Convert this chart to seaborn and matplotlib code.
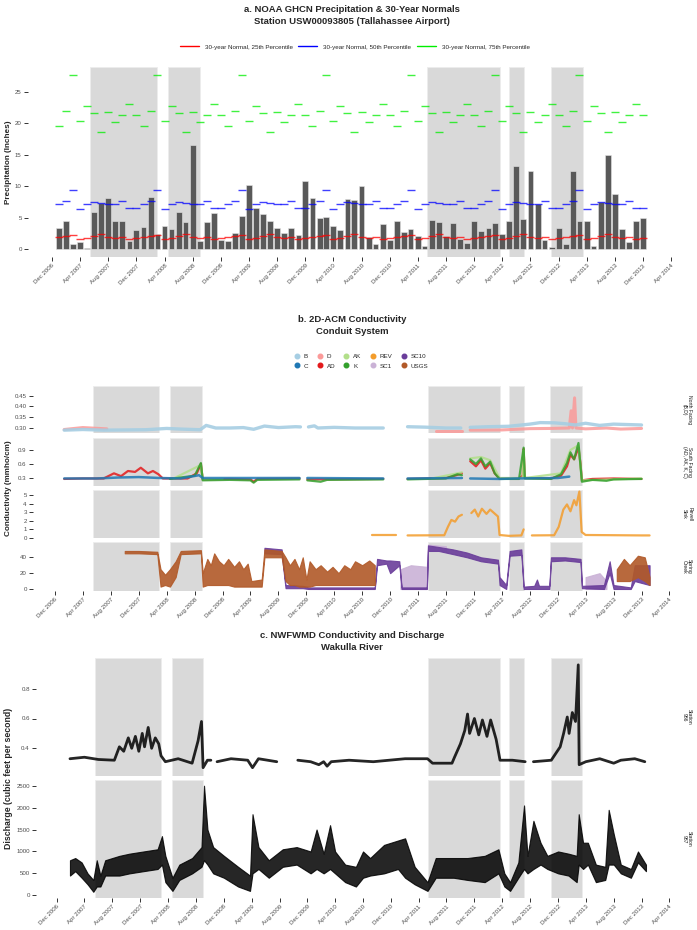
import numpy as np
import pandas as pd
import matplotlib
matplotlib.use("Agg")
import matplotlib.pyplot as plt
import matplotlib.dates as mdates
from matplotlib.lines import Line2D
import seaborn as sns

sns.set_theme(style="white")
plt.rcParams["font.family"] = ["Liberation Sans", "DejaVu Sans"]

# ---------------- data ----------------
# a. monthly precipitation, Jan 2007 .. Dec 2013 (inches)
precip_start = "2007-01-01"
precip = [3.3, 4.5, 0.85, 1.15, 0.2, 5.9, 7.4, 8.1, 4.4, 4.5, 1.2, 3.0,
          3.55, 8.3, 2.4, 3.7, 3.25, 5.85, 4.3, 16.6, 1.3, 4.3, 5.7, 1.4,
          1.35, 2.55, 5.3, 10.25, 6.6, 5.5, 4.45, 3.3, 2.5, 3.4, 2.3, 10.9,
          8.1, 5.0, 5.15, 3.6, 3.0, 8.0, 7.8, 10.0, 1.85, 0.8, 3.95, 1.5,
          4.45, 2.65, 3.15, 2.1, 0.55, 4.55, 4.3, 2.05, 4.1, 1.6, 0.95, 4.45,
          2.85, 3.3, 4.15, 2.35, 4.4, 13.15, 4.85, 12.35, 7.15, 1.5, 0.3, 3.3,
          0.85, 12.35, 4.4, 4.45, 0.4, 7.45, 14.95, 8.7, 3.2, 1.05, 4.4, 4.9]
# 30-year normals, Jan..Dec
norm_25 = [1.9, 2.0, 2.2, 1.6, 1.7, 2.1, 2.4, 1.9, 1.7, 1.9, 1.6, 1.7]
norm_50 = [7.2, 7.7, 9.4, 6.4, 7.1, 7.5, 7.3, 7.1, 7.2, 7.6, 6.6, 6.5]
norm_75 = [19.6, 22.0, 27.7, 20.4, 22.8, 21.6, 18.7, 21.8, 20.3, 21.4, 23.1, 21.4]

# wet periods (shaded)
wet_start = ["2007-05-16", "2008-04-17", "2011-05-13", "2012-05-02", "2012-10-30"]
wet_end = ["2008-02-28", "2008-09-01", "2012-03-22", "2012-07-05", "2013-03-15"]

# b. 2D-ACM conductivity (mmho/cm); NaN marks a gap
b_dates = ["2007-01-10", "2007-04-01", "2007-07-01", "2007-10-01", "2008-01-01", "2008-04-01",
           "2008-06-01", "2008-08-25", "2008-09-20", "2008-11-01", "2009-01-01", "2009-03-01",
           "2009-04-15", "2009-06-01", "2009-08-01", "2009-10-15", "2009-11-05", "2009-11-20",
           "2009-12-10", "2010-01-05", "2010-01-20", "2010-04-01", "2010-07-01", "2010-11-01",
           "2010-12-01", "2011-02-15", "2011-05-01", "2011-08-01", "2011-10-05", "2011-10-25",
           "2011-11-15", "2012-02-01", "2012-05-01", "2012-08-01", "2012-09-15", "2012-11-15",
           "2013-01-01", "2013-02-15", "2013-04-01", "2013-06-01", "2013-08-01", "2013-10-01",
           "2013-12-01"]
b_vals = [0.290, 0.293, 0.290, 0.291, 0.292, 0.298, 0.295, 0.292, 0.312, 0.300, 0.300, 0.302,
          0.294, 0.309, 0.302, 0.306, 0.305, np.nan, 0.305, 0.310, 0.300, 0.303, 0.300, 0.300,
          np.nan, 0.306, 0.304, 0.300, 0.300, np.nan, 0.303, 0.306, 0.308, 0.318, 0.325, 0.324,
          0.320, 0.314, 0.322, 0.312, 0.318, 0.316, 0.314]

d_dates = ["2007-01-10", "2007-04-01", "2007-07-15", "2007-08-01", "2011-06-20", "2011-10-10",
           "2011-10-25", "2011-11-15", "2012-04-01", "2012-08-01", "2012-11-01", "2013-01-20",
           "2013-01-28", "2013-02-03", "2013-02-12", "2013-02-18", "2013-04-01", "2013-07-01",
           "2013-09-01", "2013-12-01"]
d_vals = [0.293, 0.302, 0.296, np.nan, 0.287, 0.287, np.nan, 0.290, 0.291, 0.297, 0.298, 0.300,
          0.380, 0.300, 0.440, 0.300, 0.296, 0.300, 0.295, 0.298]

c_dates = ["2007-01-10", "2007-06-01", "2007-09-01", "2007-12-01", "2008-03-01", "2008-06-01",
           "2008-08-20", "2008-09-05", "2009-01-01", "2009-11-01", "2009-11-15", "2009-12-05",
           "2010-11-01", "2010-12-01", "2011-02-15", "2011-10-10", "2011-10-25", "2011-11-15",
           "2012-03-20", "2012-06-01", "2012-12-01", "2013-01-20"]
c_vals = [0.29, 0.29, 0.31, 0.32, 0.30, 0.29, 0.36, 0.30, 0.30, 0.30, np.nan, 0.30,
          0.29, np.nan, 0.29, 0.30, np.nan, 0.29, 0.28, 0.29, 0.30, 0.33]

ad_dates = ["2007-01-10", "2007-04-01", "2007-07-01", "2007-08-15", "2007-09-15", "2007-10-15",
            "2007-11-15", "2007-12-10", "2008-01-10", "2008-02-01", "2008-02-25", "2008-03-15",
            "2008-07-01", "2008-08-10", "2008-08-28", "2008-09-05", "2009-01-01", "2009-04-01",
            "2009-04-15", "2009-05-01", "2009-11-01", "2009-11-15", "2009-12-05", "2010-11-01",
            "2010-12-01", "2011-02-15", "2011-08-01", "2011-09-15", "2011-10-10", "2011-10-25",
            "2011-11-15", "2011-12-10", "2012-01-01", "2012-01-20", "2012-02-10", "2012-03-01",
            "2012-03-22", "2012-06-15", "2012-07-01", "2012-07-05", "2012-07-10", "2012-11-01",
            "2012-12-15", "2013-01-10", "2013-01-25", "2013-02-10", "2013-03-01", "2013-03-10",
            "2013-03-16", "2013-05-01", "2013-08-01", "2013-12-01"]
ad_vals = [0.28, 0.29, 0.29, 0.40, 0.34, 0.45, 0.43, 0.52, 0.40, 0.45, 0.38, 0.29,
           0.29, 0.40, 0.60, 0.27, 0.28, 0.27, 0.22, 0.28, 0.29, np.nan, 0.27, 0.28,
           np.nan, 0.28, 0.30, 0.36, 0.40, np.nan, 0.66, 0.55, 0.68, 0.50, 0.62, 0.40,
           0.29, 0.29, 0.35, 0.92, 0.30, 0.29, 0.35, 0.55, 0.80, 0.70, 0.95, 0.60,
           0.25, 0.28, 0.29, 0.28]

ak_dates = ["2008-05-01", "2008-08-28", "2008-09-05", "2008-12-01", "2009-01-01", "2011-06-01",
            "2011-10-10", "2011-10-25", "2011-11-15", "2012-01-01", "2012-02-10", "2012-03-22",
            "2012-07-01", "2012-07-05", "2012-07-10", "2012-12-15", "2013-01-25", "2013-03-01",
            "2013-03-16", "2013-12-01"]
ak_vals = [0.29, 0.58, 0.27, 0.28, np.nan, 0.29, 0.42, np.nan, 0.72, 0.75, 0.68, 0.30,
           0.30, 0.90, 0.30, 0.40, 0.90, 1.00, 0.25, 0.29]

k_dates = ["2008-04-15", "2008-08-01", "2008-08-28", "2008-09-05", "2009-01-01", "2009-04-01",
           "2009-04-15", "2009-05-01", "2009-11-01", "2009-11-15", "2009-12-05", "2010-02-01",
           "2010-03-01", "2010-11-01", "2010-12-01", "2011-02-15", "2011-08-01", "2011-09-20",
           "2011-10-10", "2011-10-25", "2011-11-15", "2011-12-10", "2012-01-01", "2012-01-20",
           "2012-02-10", "2012-03-01", "2012-03-22", "2012-06-15", "2012-07-05", "2012-07-10",
           "2012-11-01", "2012-12-15", "2013-01-10", "2013-01-25", "2013-02-10", "2013-03-01",
           "2013-03-10", "2013-03-16", "2013-05-01", "2013-07-01", "2013-08-01", "2013-12-01"]
k_vals = [0.28, 0.35, 0.62, 0.25, 0.26, 0.25, 0.20, 0.26, 0.27, np.nan, 0.25, 0.22,
          0.26, 0.27, np.nan, 0.27, 0.29, 0.38, 0.36, np.nan, 0.70, 0.60, 0.72, 0.55,
          0.65, 0.40, 0.28, 0.28, 0.95, 0.29, 0.28, 0.38, 0.62, 0.85, 0.70, 1.05,
          0.55, 0.22, 0.26, 0.24, 0.27, 0.28]

rev_dates = ["2010-09-15", "2010-12-25", "2011-01-20", "2011-02-15", "2011-07-25", "2011-08-10",
             "2011-08-25", "2011-09-10", "2011-09-25", "2011-10-10", "2011-10-25", "2011-11-20",
             "2011-12-05", "2011-12-20", "2012-01-05", "2012-01-25", "2012-02-10", "2012-03-15",
             "2012-03-22", "2012-05-01", "2012-06-25", "2012-07-05", "2012-07-20", "2012-08-10",
             "2012-11-15", "2012-12-05", "2012-12-25", "2013-01-10", "2013-01-25", "2013-02-10",
             "2013-02-20", "2013-03-05", "2013-03-15", "2013-04-01", "2013-12-01", "2014-01-05"]
rev_vals = [0.30, 0.30, np.nan, 0.30, 0.32, 1.30, 2.10, 1.90, 2.50, 2.70, np.nan, 2.90,
            3.30, 2.50, 3.40, 2.80, 3.30, 2.50, 0.35, 0.25, 0.30, 1.00, np.nan, 0.30,
            0.32, 1.30, 3.30, 3.90, 3.10, 4.40, 3.80, 5.40, 0.70, 0.35, 0.30, 0.30]

# spring creek ranges (lo / hi)
usgs_dates = ["2007-10-01", "2007-12-01", "2008-02-20", "2008-03-05", "2008-03-25", "2008-04-15",
              "2008-05-10", "2008-06-01", "2008-08-28", "2008-09-05", "2008-09-25", "2008-10-10",
              "2008-10-25", "2008-11-15", "2008-12-05", "2008-12-25", "2009-01-20", "2009-02-10",
              "2009-03-01", "2009-03-20", "2009-04-05", "2009-05-20", "2009-06-01", "2009-08-15",
              "2009-09-01", "2009-09-20", "2009-10-10", "2009-10-30", "2009-11-15", "2009-12-01",
              "2009-12-15", "2010-01-10", "2010-02-01", "2010-03-01", "2010-03-25", "2010-04-20",
              "2010-05-15", "2010-06-10", "2010-07-01", "2010-08-01", "2010-09-01", "2010-09-25",
              "2010-10-10", "2013-08-15", "2013-09-15", "2013-10-10", "2013-11-15", "2013-12-15",
              "2014-01-05"]
usgs_lo = [45, 45, 44, 3, 5, 3, 15, 44, 45, 3, 5, 5,
           5, 5, 5, 5, 3, 3, 3, 3, 3, 3, 40, 40,
           10, 5, 5, 3, 3, 3, 3, 5, 5, 5, 5, 5,
           5, 5, 5, 5, 5, 5, np.nan, 10, 10, 10, 15, 10, 5]
usgs_hi = [48, 48, 47, 25, 18, 25, 35, 48, 49, 20, 38, 30,
           45, 35, 30, 38, 28, 35, 25, 32, 10, 12, 50, 48,
           40, 30, 38, 25, 40, 12, 35, 25, 30, 22, 28, 20,
           30, 25, 35, 30, 36, 30, np.nan, 25, 38, 30, 42, 40, 15]

sc10_dates = ["2009-06-01", "2009-08-15", "2009-09-01", "2009-11-15", "2009-12-10", "2010-09-25",
              "2010-10-05", "2010-11-15", "2010-12-01", "2011-01-10", "2011-01-20", "2011-05-10",
              "2011-05-15", "2011-07-01", "2011-09-01", "2011-11-01", "2012-01-01", "2012-03-15",
              "2012-03-22", "2012-04-20", "2012-05-05", "2012-06-25", "2012-07-05", "2012-08-20",
              "2012-09-01", "2012-09-10", "2012-10-25", "2012-11-01", "2013-01-01", "2013-03-10",
              "2013-03-16", "2013-06-20", "2013-07-15", "2013-08-01", "2013-10-15", "2013-11-01",
              "2014-01-05"]
sc10_lo = [45, 44, 1, 1, 0, 0, 30, 32, 20, 30, 0, 0, 48, 48, 44, 40, 35, 32,
           5, 0, 42, 43, 0, 0, 0, 0, 0, 35, 36, 34, 1, 0, 20, 0, 0, 10, 5]
sc10_hi = [52, 50, 5, 4, 2, 2, 38, 36, 36, 35, 2, 2, 55, 53, 50, 46, 40, 37,
           15, 5, 48, 50, 3, 4, 12, 4, 4, 40, 40, 38, 4, 5, 35, 5, 2, 30, 30]

sc1_dates = ["2011-01-15", "2011-03-01", "2011-05-10", "2011-05-15", "2011-08-01", "2011-08-15",
             "2013-04-01", "2013-06-01", "2013-07-01"]
sc1_lo = [0, 0, 0, 50, 48, np.nan, 0, 0, 0]
sc1_hi = [25, 30, 28, 56, 54, np.nan, 15, 20, 10]

# c. NWFWMD conductivity and discharge
cond_dates = ["2007-01-28", "2007-04-01", "2007-06-01", "2007-08-10", "2007-09-01", "2007-09-20",
              "2007-10-10", "2007-10-25", "2007-11-10", "2007-11-25", "2007-12-10", "2007-12-20",
              "2008-01-05", "2008-01-20", "2008-02-05", "2008-02-20", "2008-03-01", "2008-03-20",
              "2008-05-15", "2008-07-15", "2008-08-10", "2008-08-25", "2008-09-01", "2008-09-20",
              "2008-10-05", "2008-10-20", "2008-11-01", "2009-01-01", "2009-03-15", "2009-04-05",
              "2009-05-01", "2009-07-20", "2009-09-01", "2009-10-20", "2009-12-15", "2010-01-20",
              "2010-02-10", "2010-02-25", "2010-03-15", "2010-06-01", "2010-09-15", "2011-02-01",
              "2011-05-10", "2011-06-01", "2011-08-25", "2011-09-05", "2011-10-01", "2011-10-20",
              "2011-11-01", "2011-11-10", "2011-12-01", "2011-12-20", "2012-01-05", "2012-01-25",
              "2012-02-10", "2012-03-05", "2012-03-22", "2012-05-15", "2012-07-10", "2012-08-01",
              "2012-08-15", "2012-11-01", "2012-12-10", "2012-12-25", "2013-01-10", "2013-01-18",
              "2013-02-01", "2013-02-15", "2013-02-27", "2013-03-03", "2013-04-01", "2013-06-01",
              "2013-08-01", "2013-09-01", "2013-11-01", "2013-12-15"]
cond_vals = [0.33, 0.34, 0.325, 0.32, 0.41, 0.38, 0.47, 0.40, 0.48, 0.38, 0.50, 0.41,
             0.54, 0.40, 0.47, 0.43, 0.35, 0.31, 0.33, 0.30, 0.45, 0.58, 0.27, 0.32,
             0.32, np.nan, 0.31, 0.33, 0.32, 0.27, 0.33, 0.31, np.nan, 0.32, 0.31, 0.29,
             0.31, 0.28, 0.31, 0.32, 0.31, 0.33, 0.33, 0.30, 0.30, 0.34, 0.43, 0.52,
             0.63, 0.50, 0.60, 0.49, 0.59, 0.48, 0.59, 0.46, 0.32, 0.32, 0.31, np.nan,
             0.31, 0.32, 0.41, 0.50, 0.61, 0.50, 0.64, 0.58, 0.96, 0.29, 0.31, 0.33,
             0.30, 0.32, 0.33, 0.31]

q_dates = ["2007-01-28", "2007-02-20", "2007-03-20", "2007-04-15", "2007-05-10", "2007-05-25",
           "2007-06-10", "2007-07-01", "2007-09-01", "2007-10-15", "2007-12-15", "2008-02-15",
           "2008-03-05", "2008-03-20", "2008-04-20", "2008-05-20", "2008-07-15", "2008-08-25",
           "2008-09-05", "2008-09-20", "2008-10-15", "2008-12-01", "2009-02-01", "2009-03-25",
           "2009-04-05", "2009-05-01", "2009-06-15", "2009-08-15", "2009-10-15", "2009-12-15",
           "2010-01-10", "2010-02-10", "2010-03-10", "2010-04-01", "2010-05-15", "2010-07-01",
           "2010-08-01", "2010-09-01", "2010-11-01", "2011-01-01", "2011-02-01", "2011-03-15",
           "2011-05-10", "2011-06-15", "2011-09-01", "2011-11-01", "2012-01-15", "2012-03-15",
           "2012-04-10", "2012-05-05", "2012-06-10", "2012-07-05", "2012-07-20", "2012-08-15",
           "2012-09-15", "2012-10-15", "2012-12-01", "2013-01-15", "2013-02-20", "2013-03-01",
           "2013-03-20", "2013-04-10", "2013-05-15", "2013-06-25", "2013-07-10", "2013-08-01",
           "2013-09-01", "2013-10-15", "2013-11-15", "2013-12-20"]
q_lo = [450, 550, 400, 250, 80, 200, 200, 450, 450, 500, 550, 600,
        700, 300, 100, 350, 500, 650, 800, 700, 500, 400, 200, 100,
        500, 600, 400, 650, 700, 500, 600, 500, 600, 500, 300, 200,
        400, 450, 500, 600, 400, 250, 100, 400, 400, 350, 300, 500,
        200, 100, 400, 600, 500, 600, 700, 600, 500, 450, 300, 700,
        600, 700, 300, 350, 700, 700, 500, 400, 750, 550]
q_hi = [800, 850, 750, 500, 350, 800, 450, 800, 900, 950, 1000, 1050,
        1350, 900, 400, 700, 850, 1100, 2500, 1500, 1100, 900, 650, 450,
        1850, 1100, 800, 1050, 1100, 1000, 1500, 950, 1600, 1000, 700, 650,
        1000, 850, 1150, 1250, 1300, 650, 300, 850, 850, 850, 900, 1050,
        500, 300, 750, 2050, 900, 1700, 1200, 900, 1000, 950, 900, 1850,
        1200, 1200, 700, 650, 1950, 1400, 700, 600, 1000, 700]

# ---------------- layout helpers ----------------
W, H = 697, 930
fig = plt.figure(figsize=(W / 100, H / 100), dpi=100)
D0 = mdates.date2num(pd.Timestamp("2006-12-01"))
D1 = mdates.date2num(pd.Timestamp("2014-04-01"))
tick_dates = pd.date_range("2006-12-01", "2014-04-01", freq="4MS")
GREY = "#D9D9D9"


def add_ax(left, top, right, bottom):
    ax = fig.add_axes([left / W, 1 - bottom / H, (right - left) / W, (bottom - top) / H])
    ax.patch.set_alpha(0)
    for s in ax.spines.values():
        s.set_visible(False)
    return ax


def set_x(ax, left, right, p0, p1, show=True):
    sc = (p1 - p0) / (D1 - D0)
    ax.set_xlim(D0 - (p0 - left) / sc, D1 + (right - p1) / sc)
    if show:
        ax.set_xticks(mdates.date2num(tick_dates))
        ax.set_xticklabels([d.strftime("%b %Y") for d in tick_dates], rotation=45,
                           ha="right", rotation_mode="anchor")
    else:
        ax.set_xticks([])


def set_y(ax, top, bottom, v0, p0, v1, p1, ticks, fmt="{:g}"):
    sc = (p0 - p1) / (v1 - v0)
    ax.set_ylim(v0 - (bottom - p0) / sc, v1 + (p1 - top) / sc)
    ax.set_yticks(ticks)
    ax.set_yticklabels([fmt.format(t) for t in ticks])


def style(ax):
    ax.tick_params(axis="both", which="both", length=3, width=0.7, color="#333333",
                   labelsize=4.4, labelcolor="#4D4D4D", pad=1.5, left=True, bottom=True)
    ax.set_xlabel("")
    ax.set_ylabel("")


def shade(ax):
    for s, e in zip(wet_start, wet_end):
        ax.axvspan(pd.Timestamp(s), pd.Timestamp(e), color=GREY, ec="#EDEDED", lw=0.6, zorder=0)


def segs(dates, **cols):
    df = pd.DataFrame({"date": pd.to_datetime(dates), **cols})
    first = list(cols)[0]
    df["seg"] = df[first].isna().cumsum()
    return df.dropna()


def draw_line(ax, dates, vals, color, lw=2.0, alpha=0.85):
    df = segs(dates, val=vals)
    sns.lineplot(data=df, x="date", y="val", units="seg", estimator=None, color=color,
                 lw=lw, alpha=alpha, ax=ax, zorder=3)


def draw_band(ax, dates, lo, hi, color, alpha=0.9):
    df = segs(dates, lo=lo, hi=hi)
    for _, g in df.groupby("seg"):
        ax.fill_between(g["date"], g["lo"], g["hi"], color=color, alpha=alpha, lw=0.8,
                        ec=color, zorder=3)


def strip(text, y):
    fig.text(687 / W, 1 - y / H, text, rotation=-90, ha="center", va="center",
             fontsize=3.6, color="#1A1A1A", linespacing=1.1)


def title(line1, line2, y):
    # two centred lines, ~12 px apart
    fig.text(352 / W, 1 - (y - 6) / H, line1, ha="center", va="center", fontsize=6.8,
             fontweight="bold")
    fig.text(352 / W, 1 - (y + 6) / H, line2, ha="center", va="center", fontsize=6.8,
             fontweight="bold")


def ylab(text, y, size=5.9):
    fig.text(9 / W, 1 - y / H, text, rotation=90, ha="center", va="center",
             fontsize=size, fontweight="bold")


# ---------------- a. precipitation ----------------
title("a. NOAA GHCN Precipitation & 30-Year Normals",
      "Station USW00093805 (Tallahassee Airport)", 16)
months = pd.date_range(precip_start, periods=len(precip), freq="MS")
axa = add_ax(28, 67, 680, 257)
shade(axa)
axa.bar(months, precip, width=25, color="#595959", edgecolor="#E6E6E6", lw=0.4, zorder=2)
n_years = len(precip) // 12
for vals, col in [(norm_25, "#FF0000"), (norm_50, "#0000FF"), (norm_75, "#00EE00")]:
    axa.plot(months, np.tile(vals, n_years), ls="none", marker="_", ms=5.5, mew=1.0,
             color=col, alpha=0.75, zorder=4)
set_x(axa, 28, 680, 52, 671)
set_y(axa, 67, 257, 0, 249, 25, 92, [0, 5, 10, 15, 20, 25])
style(axa)
ylab("Precipitation (Inches)", 162)
handles = [Line2D([], [], color=c, lw=1.0) for c in ("#FF0000", "#0000FF", "#00EE00")]
fig.legend(handles, ["30-year Normal, 25th Percentile", "30-year Normal, 50th Percentile",
                     "30-year Normal, 75th Percentile"],
           loc="center", bbox_to_anchor=(355 / W, 1 - 47 / H), ncol=3, frameon=False,
           fontsize=4.5, handlelength=3.0, handletextpad=1.0, columnspacing=0.9)

# ---------------- b. 2D-ACM conductivity ----------------
title("b. 2D-ACM Conductivity", "Conduit System", 325)
pal = {"B": "#A6CEE3", "C": "#1F78B4", "D": "#FB9A99", "AD": "#E31A1C", "AK": "#B2DF8A",
       "K": "#33A02C", "REV": "#F39C2B", "SC1": "#CAB2D6", "SC10": "#6A3D9A", "USGS": "#B15928"}
rows_b = [(385.7, 433.3), (438, 486), (490.3, 538), (542.3, 590.7)]
axb = [add_ax(33, t, 680, b) for t, b in rows_b]
for ax in axb:
    shade(ax)

draw_line(axb[0], d_dates, d_vals, pal["D"], lw=2.2, alpha=0.85)
draw_line(axb[0], b_dates, b_vals, pal["B"], lw=2.4, alpha=0.9)
set_y(axb[0], *rows_b[0], 0.30, 428, 0.45, 395.7, [0.30, 0.35, 0.40, 0.45], "{:.2f}")

draw_line(axb[1], ad_dates, ad_vals, pal["AD"], lw=1.6)
draw_line(axb[1], ak_dates, ak_vals, pal["AK"], lw=1.6)
draw_line(axb[1], k_dates, k_vals, pal["K"], lw=1.6)
draw_line(axb[1], c_dates, c_vals, pal["C"], lw=1.8)
set_y(axb[1], *rows_b[1], 0.3, 478, 0.9, 450, [0.3, 0.6, 0.9])

draw_line(axb[2], rev_dates, rev_vals, pal["REV"], lw=1.6)
set_y(axb[2], *rows_b[2], 0, 538.3, 5, 495, [0, 1, 2, 3, 4, 5])

draw_band(axb[3], sc1_dates, sc1_lo, sc1_hi, pal["SC1"], alpha=0.9)
draw_band(axb[3], sc10_dates, sc10_lo, sc10_hi, pal["SC10"], alpha=0.9)
draw_band(axb[3], usgs_dates, usgs_lo, usgs_hi, pal["USGS"], alpha=0.9)
set_y(axb[3], *rows_b[3], 0, 589, 40, 557.3, [0, 20, 40])

for i, ax in enumerate(axb):
    set_x(ax, 33, 680, 55, 669.3, show=(i == 3))
    style(ax)

for (t, b), lab in zip(rows_b, ["North Facing\n(B,D)", "South Facing\n(AD, AK, K, C)",
                                "Revell\nSink", "Spring\nCreek"]):
    strip(lab, (t + b) / 2)
ylab("Conductivity (mmho/cm)", 488)

order = ["B", "C", "D", "AD", "AK", "K", "REV", "SC1", "SC10", "USGS"]
dots = [Line2D([], [], ls="none", marker="o", ms=3.3, color=pal[k]) for k in order]
fig.legend(dots, order, loc="center", bbox_to_anchor=(361 / W, 1 - 361 / H), ncol=5,
           frameon=False, fontsize=4.5, handlelength=1.0, handletextpad=0.6,
           columnspacing=1.3, labelspacing=0.7)

# ---------------- c. NWFWMD ----------------
title("c. NWFWMD Conductivity and Discharge", "Wakulla River", 641)
rows_c = [(658.3, 776), (780.3, 897.7)]
axc = [add_ax(36, t, 680, b) for t, b in rows_c]
for ax in axc:
    shade(ax)

draw_line(axc[0], cond_dates, cond_vals, "black", lw=2.0, alpha=0.85)
set_y(axc[0], *rows_c[0], 0.4, 748.3, 0.8, 688.7, [0.4, 0.6, 0.8])

draw_band(axc[1], q_dates, q_lo, q_hi, "black", alpha=0.85)
set_y(axc[1], *rows_c[1], 0, 895.3, 2500, 785.7, [0, 500, 1000, 1500, 2000, 2500])

for i, ax in enumerate(axc):
    set_x(ax, 36, 680, 56.7, 669.3, show=(i == 1))
    style(ax)

for (t, b), lab in zip(rows_c, ["Station\n986", "Station\n987"]):
    strip(lab, (t + b) / 2)
ylab("Discharge (cubic feet per second)", 778, size=6.3)

fig.savefig("out.png", dpi=100)
